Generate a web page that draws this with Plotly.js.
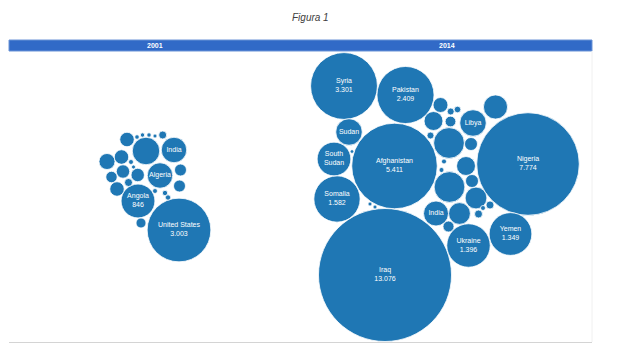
<!DOCTYPE html>
<html><head><meta charset="utf-8">
<script src="https://cdn.plot.ly/plotly-3.0.1.min.js"></script>
<style>html,body{margin:0;padding:0;background:#fff}#chart{width:620px;height:351px}</style>
</head><body><div id="chart"></div>
<script>
// ---- data (unlabeled bubbles estimated from size) ----
const panels = ['2001', '2014'];

const names2001 = ['United States','Angola','Algeria','India','','','','','','','','','','','','','','','','','','','','','',''];
const values2001 = [3003, 846, 480, 480, 560, 155, 190, 155, 133, 133, 96, 155, 47, 106, 106, 47, 74, 21, 21, 18, 15, 14, 14, 12, 18, 12];
const cx2001 = [179, 138, 160, 174, 146, 127, 107, 121.5, 123, 137.7, 111.5, 117, 128.5, 180.5, 179.5, 162.7, 141, 165, 168, 155, 137, 142.5, 149, 155, 131, 133.5];
const cy2001 = [230, 201, 175.5, 150, 151, 139.5, 161.5, 157, 171.5, 175, 177, 189, 182.5, 170, 186, 135, 223, 193, 197.5, 191, 137, 135, 135, 136, 162, 167];

const names2014 = ['Iraq','Nigeria','Afghanistan','Syria','Pakistan','Somalia','Ukraine','Yemen','South Sudan','Sudan','Libya','India','','','','','','','','','','','','','','','','','','','','','','',''];
const values2014 = [13076, 7774, 5411, 3301, 2409, 1582, 1396, 1349, 840, 520, 520, 460, 430, 700, 700, 350, 350, 265, 265, 165, 125, 125, 85, 90, 36, 32, 36, 47, 47, 18, 18, 12, 12, 10, 18];
const cx2014 = [385, 528, 394.5, 344, 405.5, 337, 468.5, 510.5, 334, 349, 473, 436, 495.5, 449, 449.5, 459.5, 476, 466, 433.5, 440.5, 471, 472, 450.5, 448.5, 450.7, 457.5, 430.5, 490, 478.5, 444, 441.5, 370, 375, 352, 483];
const cy2014 = [275, 164, 166, 86, 95, 199, 245.5, 234, 159, 132, 123, 213.5, 107, 143, 187, 213.5, 198, 166, 121, 105, 144, 181, 121.5, 226.5, 111.5, 109.5, 135.5, 205, 214, 161.5, 170, 204, 207, 151.5, 208];

const valueLabelled = ['United States','Angola','Iraq','Nigeria','Afghanistan','Syria','Pakistan','Somalia','Ukraine','Yemen'];

// ---- helpers ----
function fmt(v){ return String(v).replace(/\B(?=(\d{3})+(?!\d))/g, '.'); }
function label(name, v){
  if(!name) return '';
  if(valueLabelled.indexOf(name) >= 0) return name + '<br>' + fmt(v);
  return name.replace(' ', '<br>');
}

const maxVal = Math.max(...values2001, ...values2014);
const maxRadiusPx = 66.5;
const sizeref = maxVal / (2 * maxRadiusPx * maxRadiusPx);

function makeTrace(names, values, xs, ys, panel){
  return {
    type: 'scatter', mode: 'markers+text', name: panel,
    x: xs, y: ys,
    text: names.map((n,i)=>label(n, values[i])),
    customdata: values,
    hovertemplate: '%{customdata}<extra>' + panel + '</extra>',
    textposition: 'middle center',
    textfont: {family: 'Liberation Sans, Arial, sans-serif', size: 7, color: '#ffffff'},
    marker: {
      size: values, sizemode: 'area', sizeref: sizeref,
      color: '#1f77b4', opacity: 1,
      line: {color: '#ffffff', width: 0.8}
    },
    showlegend: false, cliponaxis: false
  };
}

const data = [
  makeTrace(names2001, values2001, cx2001, cy2001, panels[0]),
  makeTrace(names2014, values2014, cx2014, cy2014, panels[1])
];

const layout = {
  width: 620, height: 351,
  margin: {l:0, r:0, t:0, b:0},
  paper_bgcolor: '#ffffff', plot_bgcolor: '#ffffff',
  xaxis: {range: [0, 620], visible: false, fixedrange: true},
  yaxis: {range: [351, 0], visible: false, fixedrange: true},
  shapes: [
    {type:'rect', xref:'x', yref:'y', x0:9, x1:592, y0:40, y1:51, fillcolor:'#316AC7', line:{color:'#6b93d6', width:1}, layer:'below'},
    {type:'line', xref:'x', yref:'y', x0:9, x1:592, y0:342.5, y1:342.5, line:{color:'#d4d4d4', width:1}, layer:'below'},
    {type:'line', xref:'x', yref:'y', x0:592, x1:592, y0:51, y1:342, line:{color:'#f0f0f0', width:1}, layer:'below'}
  ],
  annotations: [
    {text:'<i>Figura 1</i>', x:310, y:17, xref:'x', yref:'y', showarrow:false, font:{family:'Liberation Sans, Arial, sans-serif', size:10, color:'#404040'}},
    {text:'<b>' + panels[0] + '</b>', x:155, y:45.5, xref:'x', yref:'y', showarrow:false, font:{family:'Liberation Sans, Arial, sans-serif', size:7, color:'#ffffff'}},
    {text:'<b>' + panels[1] + '</b>', x:447, y:45.5, xref:'x', yref:'y', showarrow:false, font:{family:'Liberation Sans, Arial, sans-serif', size:7, color:'#ffffff'}}
  ]
};

Plotly.newPlot('chart', data, layout, {displayModeBar: false, staticPlot: true});
</script></body></html>
